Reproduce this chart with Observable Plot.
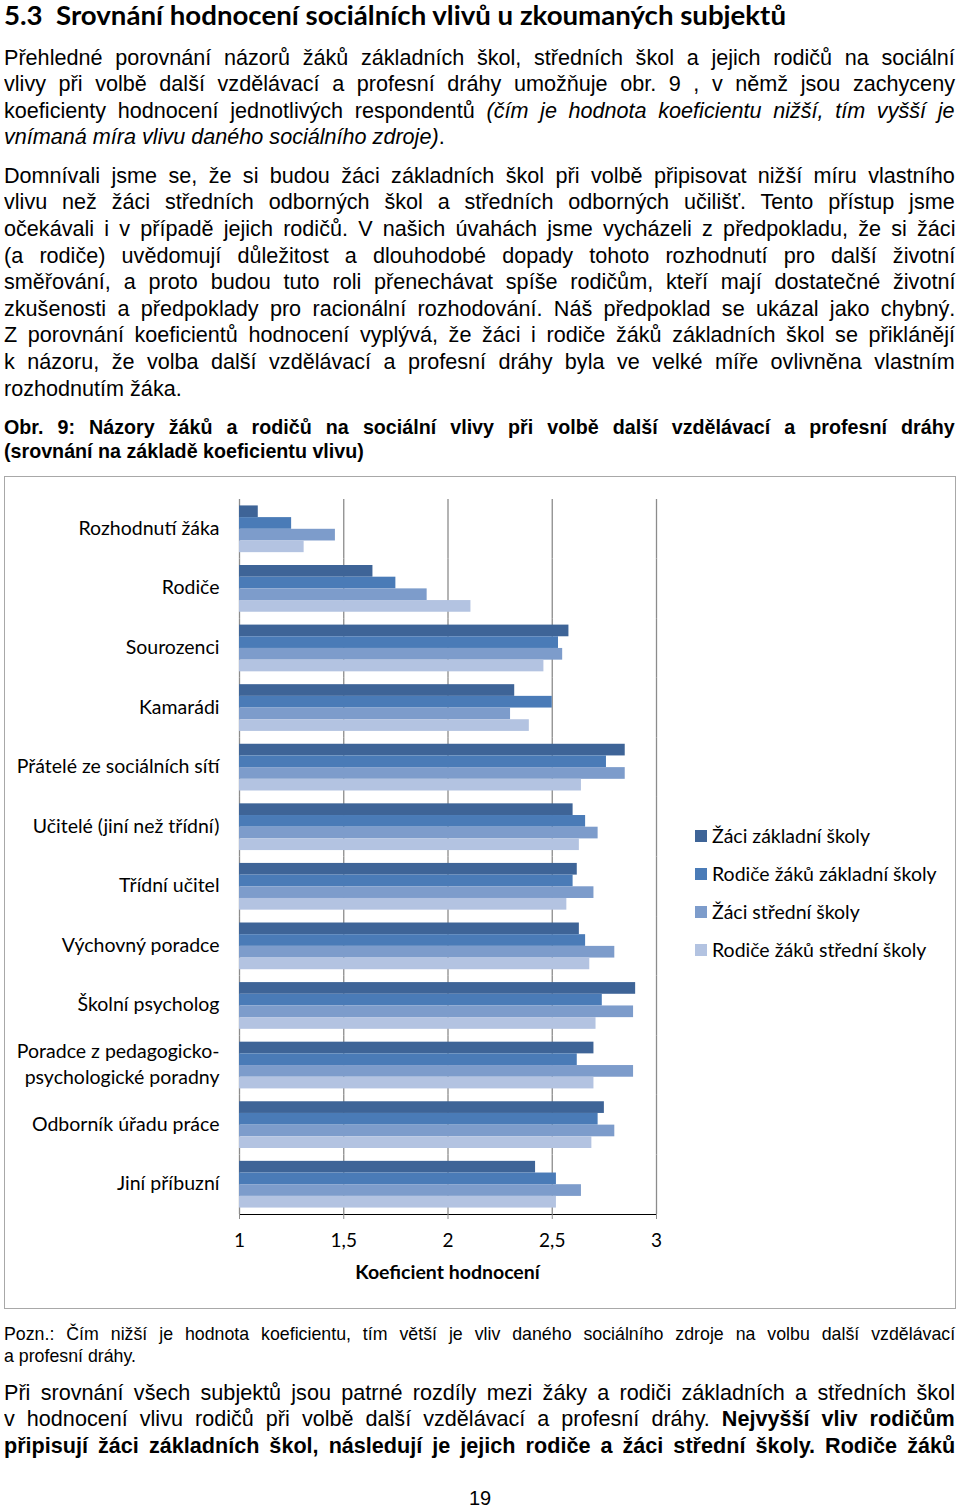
<!DOCTYPE html>
<html><head><meta charset="utf-8">
<script src="https://cdn.jsdelivr.net/npm/d3@7"></script>
<script src="https://cdn.jsdelivr.net/npm/@observablehq/plot@0.6"></script>
<style>
html,body{margin:0;padding:0;background:#fff;overflow:hidden}
#page{position:relative;width:960px;height:1509px;overflow:hidden;color:#000;background:#fff}
.ln{position:absolute;left:4px;white-space:nowrap;transform-origin:0 50%;}
.body{font-family:"Liberation Sans",Arimo,Arial,Helvetica,sans-serif;font-size:22.5px;}
.cap{font-family:"Liberation Sans",Arimo,Arial,Helvetica,sans-serif;font-size:20.5px;font-weight:bold;}
.note{font-family:"Liberation Sans",Arimo,Arial,Helvetica,sans-serif;font-size:18.5px;}
.title{font-family:Lato,"Open Sans",sans-serif;font-size:26px;font-weight:700;}
.pg{font-family:"Liberation Sans",Arimo,Arial,sans-serif;font-size:20px;position:absolute;left:0;width:960px;text-align:center;}
#frame{position:absolute;left:4px;top:476px;width:952px;height:833px;box-sizing:border-box;border:1.5px solid #a8a8a8;}
#chart{position:absolute;left:0;top:476px;}
#chart svg g[aria-label^="x-axis"] line,#chart svg g[aria-label^="x-axis"] path{stroke:#8c8c8c;}
.leg{position:absolute;font-family:Lato,"Open Sans",sans-serif;font-size:19.5px;white-space:nowrap;}
.sw{position:absolute;width:12px;height:12px;}
#xlabel{position:absolute;left:247.5px;width:400px;text-align:center;font-family:Lato,"Open Sans",sans-serif;font-weight:700;font-size:19.5px;}
</style>
</head><body><div id="page"><div id="frame"></div><div id="chart"></div></div>
<script>
// ---------- chart data ----------
const categories = ["Rozhodnutí žáka","Rodiče","Sourozenci","Kamarádi","Přátelé ze sociálních sítí","Učitelé (jiní než třídní)","Třídní učitel","Výchovný poradce","Školní psycholog","Poradce z pedagogicko-psychologické poradny","Odborník úřadu práce","Jiní příbuzní"];
const categoryLabels = ["Rozhodnutí žáka","Rodiče","Sourozenci","Kamarádi","Přátelé ze sociálních sítí","Učitelé (jiní než třídní)","Třídní učitel","Výchovný poradce","Školní psycholog","Poradce z pedagogicko-\npsychologické poradny","Odborník úřadu práce","Jiní příbuzní"];
const seriesNames = ["Žáci základní školy","Rodiče žáků základní školy","Žáci střední školy","Rodiče žáků střední školy"];
const seriesColors = ["#3e6497","#4a7bb7","#7d9ccb","#b3c3e1"];
const zakyZS   = [1.09,1.64,2.58,2.32,2.85,2.60,2.62,2.63,2.90,2.70,2.75,2.42];
const rodiceZS = [1.25,1.75,2.53,2.50,2.76,2.66,2.60,2.66,2.74,2.62,2.72,2.52];
const zakySS   = [1.46,1.90,2.55,2.30,2.85,2.72,2.70,2.80,2.89,2.89,2.80,2.64];
const rodiceSS = [1.31,2.11,2.46,2.39,2.64,2.63,2.57,2.68,2.71,2.70,2.69,2.52];
const xTicks = [1,1.5,2,2.5,3];
const xTickLabels = ["1","1,5","2","2,5","3"];
const xMin = 1, xMax = 3;
const xTitle = "Koeficient hodnocení";

// ---------- page text ----------
const titleText = "5.3&nbsp;&nbsp;Srovnání hodnocení sociálních vlivů u zkoumaných subjektů";
const para1 = [
 "Přehledné porovnání názorů žáků základních škol, středních škol a jejich rodičů na sociální",
 "vlivy při volbě další vzdělávací a profesní dráhy umožňuje obr. 9 , v němž jsou zachyceny",
 "koeficienty hodnocení jednotlivých respondentů <i>(čím je hodnota koeficientu nižší, tím vyšší je</i>",
 "<i>vnímaná míra vlivu daného sociálního zdroje)</i>."
];
const para2 = [
 "Domnívali jsme se, že si budou žáci základních škol při volbě připisovat nižší míru vlastního",
 "vlivu než žáci středních odborných škol a středních odborných učilišť. Tento přístup jsme",
 "očekávali i v případě jejich rodičů. V našich úvahách jsme vycházeli z předpokladu, že si žáci",
 "(a rodiče) uvědomují důležitost a dlouhodobé dopady tohoto rozhodnutí pro další životní",
 "směřování, a proto budou tuto roli přenechávat spíše rodičům, kteří mají dostatečné životní",
 "zkušenosti a předpoklady pro racionální rozhodování. Náš předpoklad se ukázal jako chybný.",
 "Z porovnání koeficientů hodnocení vyplývá, že žáci i rodiče žáků základních škol se přiklánějí",
 "k názoru, že volba další vzdělávací a profesní dráhy byla ve velké míře ovlivněna vlastním",
 "rozhodnutím žáka."
];
const captionLines = [
 "Obr. 9: Názory žáků a rodičů na sociální vlivy při volbě další vzdělávací a profesní dráhy",
 "(srovnání na základě koeficientu vlivu)"
];
const noteLines = [
 "Pozn.: Čím nižší je hodnota koeficientu, tím větší je vliv daného sociálního zdroje na volbu další vzdělávací",
 "a profesní dráhy."
];
const para3 = [
 "Při srovnání všech subjektů jsou patrné rozdíly mezi žáky a rodiči základních a středních škol",
 "v hodnocení vlivu rodičů při volbě další vzdělávací a profesní dráhy. <b>Nejvyšší vliv rodičům</b>",
 "<b>připisují žáci základních škol, následují je jejich rodiče a žáci střední školy. Rodiče žáků</b>"
];
const pageNumber = "19";

const page = document.getElementById("page");
const TARGET = 951;
const SX = 0.96; // scan is slightly narrower than tall
function addLine(html, cls, cy, lh, mode, target, sx) {
  sx = sx || SX;
  const el = document.createElement("div");
  el.className = "ln " + cls;
  el.innerHTML = html;
  el.style.top = (cy - lh / 2) + "px";
  el.style.height = lh + "px";
  el.style.lineHeight = lh + "px";
  page.appendChild(el);
  const w = el.offsetWidth;
  const t = (target || TARGET) / sx;
  let s = sx;
  if (mode === "justify") {
    const spaces = (el.textContent.trim().match(/ /g) || []).length;
    if (w <= t && spaces > 0) el.style.wordSpacing = ((t - w) / spaces) + "px";
    else if (w > t) s = sx * t / w;
  } else if (mode === "fit") {
    s = sx * t / w;
  } else if (w > t) {
    s = sx * t / w;
  }
  el.style.transform = `scaleX(${s})`;
  return el;
}
function addPara(lines, cls, y0, lh, lastJustify) {
  lines.forEach((s, i) => addLine(s, cls, y0 + i * lh, lh, (i === lines.length - 1 && !lastJustify) ? "left" : "justify"));
}
addLine(titleText, "title", 15, 30, "fit", 782, 1);
addPara(para1, "body", 58, 26.4);
addPara(para2, "body", 176, 26.6);
addPara(captionLines, "cap", 427, 24);
addPara(noteLines, "note", 1334, 22);
addPara(para3, "body", 1393, 26.5, true);
const pg = document.createElement("div");
pg.className = "pg"; pg.textContent = pageNumber;
pg.style.top = (1498 - 12) + "px"; pg.style.lineHeight = "24px";
page.appendChild(pg);

// ---------- chart ----------
const rows = [];
const seriesValues = [zakyZS, rodiceZS, zakySS, rodiceSS];
categories.forEach((c, i) => seriesValues.forEach((vals, j) => rows.push({
  category: c, label: categoryLabels[i], series: seriesNames[j], value: vals[i]
})));

const chart = Plot.plot({
  width: 960,
  height: 833,
  marginLeft: 239,
  marginRight: 304,
  marginTop: 23,
  marginBottom: 95,
  facet: {data: rows, y: "category"},
  fy: {domain: categories, axis: null, padding: 0, round: false, label: null},
  y: {domain: seriesNames, axis: null, paddingInner: 0, paddingOuter: 0.55, round: false},
  x: {domain: [xMin, xMax], ticks: xTicks, tickFormat: d => xTickLabels[xTicks.indexOf(d)], tickSize: 5, tickPadding: 14, line: true, label: null},
  color: {domain: seriesNames, range: seriesColors},
  style: {fontFamily: "Lato, 'Open Sans', sans-serif", fontSize: "19px", color: "#000", background: "transparent", overflow: "visible"},
  marks: [
    Plot.ruleX(xTicks, {stroke: "#8c8c8c", strokeWidth: 1.3}),
    Plot.barX(rows, {x1: () => xMin, x2: "value", y: "series", fill: "series"}),
    Plot.text(rows, {filter: d => d.series === seriesNames[0], text: "label", frameAnchor: "left", dx: -20, dy: -3, textAnchor: "end", lineHeight: 1.36, fontSize: 19.5, fill: "#000"})
  ]
});
document.getElementById("chart").appendChild(chart);

const xl = document.createElement("div");
xl.id = "xlabel"; xl.textContent = xTitle;
xl.style.top = (1272 - 12) + "px"; xl.style.lineHeight = "24px";
page.appendChild(xl);

// legend
const legendY = [836, 874, 912, 950];
seriesNames.forEach((s, i) => {
  const sw = document.createElement("div");
  sw.className = "sw"; sw.style.background = seriesColors[i];
  sw.style.left = "695px"; sw.style.top = (legendY[i] - 6) + "px";
  page.appendChild(sw);
  const t = document.createElement("div");
  t.className = "leg"; t.textContent = s;
  t.style.left = "712px"; t.style.top = (legendY[i] - 12) + "px"; t.style.lineHeight = "24px";
  page.appendChild(t);
});
</script>
</body></html>
